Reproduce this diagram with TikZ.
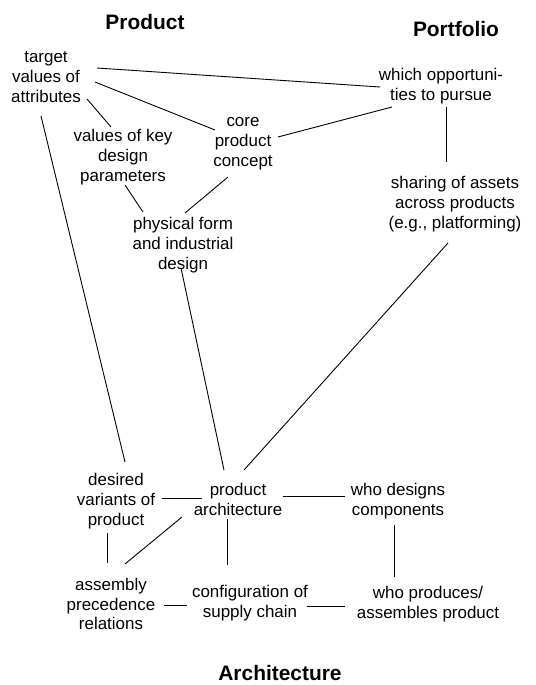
\documentclass[tikz,border=0pt]{standalone}
\usepackage{fontspec}
\setmainfont{Liberation Sans}
\begin{document}
\begin{tikzpicture}[x=1bp,y=-1bp,
  lbl/.style={align=center,inner sep=0pt,font=\fontsize{17}{20}\selectfont},
  ttl/.style={inner sep=0pt,anchor=base,font=\fontsize{21}{24}\selectfont\bfseries},
  conn/.style={draw=black,line width=0.9bp}]
\useasboundingbox (0,0) rectangle (536,685);
% titles
\node[ttl] (tprod) at (145,30) {Product};
\node[ttl] (tport) at (456,37) {Portfolio};
\node[ttl] (tarch) at (280,680) {Architecture};
% nodes
\node[lbl] (tgt) at (46,77) {target\\values of\\attributes};
\node[lbl] (opp) at (441,86) {which opportuni-\\ties to pursue};
\node[lbl] (key) at (123,157) {values of key\\design\\parameters};
\node[lbl] (core) at (243,144) {core\\product\\concept};
\node[lbl] (share) at (455,204) {sharing of assets\\across products\\(e.g., platforming)};
\node[lbl] (phys) at (183,245) {physical form\\and industrial\\design};
\node[lbl] (desir) at (116,501) {desired\\variants of\\product};
\node[lbl] (arch) at (238,499) {product\\architecture};
\node[lbl] (whod) at (398,501) {who designs\\components};
\node[lbl] (assem) at (111,604) {assembly\\precedence\\relations};
\node[lbl] (config) at (250,603) {configuration of\\supply chain};
\node[lbl] (whop) at (428,604) {who produces/\\assembles product};
% connectors
\draw[conn] ([shift={(51,-9)}]tgt.center) -- ([shift={(-61,1)}]opp.center);
\draw[conn] ([shift={(49,5)}]tgt.center) -- ([shift={(-28,-14)}]core.center);
\draw[conn] ([shift={(41,22)}]tgt.center) -- ([shift={(-12,-30)}]key.center);
\draw[conn] ([shift={(35,-7)}]core.center) -- ([shift={(-49,21)}]opp.center);
\draw[conn] ([shift={(5,21)}]opp.center) -- ([shift={(-9,-42)}]share.center);
\draw[conn] ([shift={(2,28)}]key.center) -- ([shift={(-40,-33)}]phys.center);
\draw[conn] ([shift={(-15,33)}]core.center) -- ([shift={(2,-32)}]phys.center);
\draw[conn] ([shift={(-5,39)}]tgt.center) -- ([shift={(9,-39)}]desir.center);
\draw[conn] ([shift={(-2,23)}]phys.center) -- ([shift={(-14,-29)}]arch.center);
\draw[conn] ([shift={(-7,39)}]share.center) -- ([shift={(6,-29)}]arch.center);
\draw[conn] ([shift={(46,-3)}]desir.center) -- ([shift={(-36,-1)}]arch.center);
\draw[conn] ([shift={(45,-3)}]arch.center) -- ([shift={(-53,-5)}]whod.center);
\draw[conn] ([shift={(-9,32)}]desir.center) -- ([shift={(-4,-41)}]assem.center);
\draw[conn] ([shift={(-56,18)}]arch.center) -- ([shift={(14,-40)}]assem.center);
\draw[conn] ([shift={(-11,20)}]arch.center) -- ([shift={(-23,-38)}]config.center);
\draw[conn] ([shift={(-4,24)}]whod.center) -- ([shift={(-34,-27)}]whop.center);
\draw[conn] ([shift={(53,1)}]assem.center) -- ([shift={(-63,2)}]config.center);
\draw[conn] ([shift={(57,3)}]config.center) -- ([shift={(-83,2)}]whop.center);
\end{tikzpicture}
\end{document}
